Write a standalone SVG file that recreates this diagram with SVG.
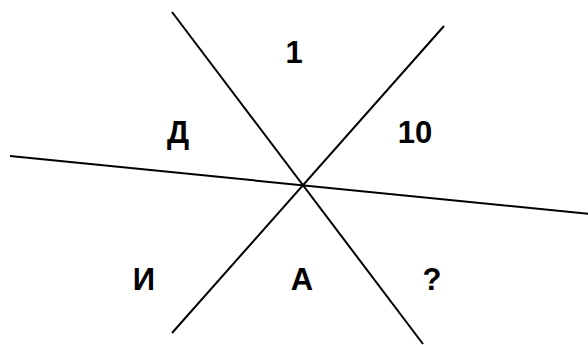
<svg xmlns="http://www.w3.org/2000/svg" width="588" height="345" viewBox="0 0 588 345">
<style>
.ln{stroke:#000;stroke-width:2;fill:none}
.t{font-family:"Liberation Sans",Arial,sans-serif;font-weight:bold;font-size:31px;fill:#000;text-anchor:middle}
</style>
<rect width="588" height="345" fill="#fff"/>
<g id="connectors">
<line class="ln" x1="172" y1="12" x2="423" y2="344"/>
<line class="ln" x1="444" y1="26" x2="172" y2="333"/>
<line class="ln" x1="10" y1="156" x2="590" y2="214"/>
</g>
<g id="label-1"><text class="t" x="294" y="63">1</text></g>
<g id="label-D"><text class="t" x="178" y="143">Д</text></g>
<g id="label-10"><text class="t" x="415" y="143">10</text></g>
<g id="label-I"><text class="t" x="144" y="290">И</text></g>
<g id="label-A"><text class="t" x="302" y="290">А</text></g>
<g id="label-q"><text class="t" x="432" y="290">?</text></g>
</svg>
